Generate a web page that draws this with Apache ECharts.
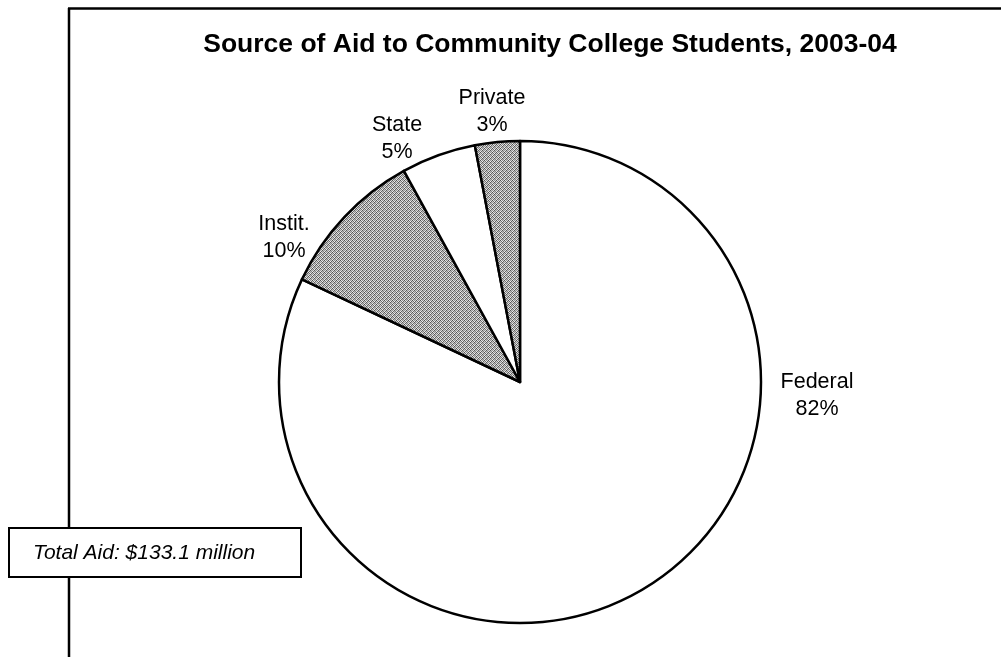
<!DOCTYPE html>
<html>
<head>
<meta charset="utf-8">
<script src="https://cdn.jsdelivr.net/npm/echarts@6/dist/echarts.min.js"></script>
<style>
  html, body { margin: 0; padding: 0; background: #fff; }
  #chart { width: 1001px; height: 659px; }
</style>
</head>
<body>
<div id="chart"></div>
<script>
// Aid sources, share of total (percent), clockwise from 12 o'clock
const categories = ['Federal', 'Instit.', 'State', 'Private'];
const shares = [82, 10, 5, 3];
const titleText = 'Source of Aid to Community College Students, 2003-04';
const noteText = 'Total Aid: $133.1 million';

// Dithered gray fill used for the shaded slices
function ditherPattern() {
  const c = document.createElement('canvas');
  c.width = 4; c.height = 4;
  const ctx = c.getContext('2d');
  const cells = [
    '#505050', '#e4e4e4', '#909090', '#d4d4d4',
    '#cccccc', '#707070', '#f2f2f2', '#606060',
    '#989898', '#dcdcdc', '#585858', '#c4c4c4',
    '#ececec', '#686868', '#bcbcbc', '#808080'
  ];
  cells.forEach((col, i) => {
    ctx.fillStyle = col;
    ctx.fillRect(i % 4, Math.floor(i / 4), 1, 1);
  });
  return c;
}
const shaded = { image: ditherPattern(), repeat: 'repeat' };
const fills = ['#ffffff', shaded, '#ffffff', shaded];

// Label block centres for each slice
const labelSpots = [[817, 396], [284, 238], [397, 139], [492, 112]];

const chart = echarts.init(document.getElementById('chart'), null, { renderer: 'canvas' });
chart.setOption({
  backgroundColor: '#ffffff',
  animation: false,
  title: {
    text: titleText,
    left: 545,
    top: 26,
    textAlign: 'center',
    textStyle: {
      fontFamily: 'Liberation Sans, Arial, sans-serif',
      fontWeight: 'bold',
      fontSize: 26.5,
      color: '#000'
    }
  },
  graphic: [
    // chart frame: top and left rules
    { type: 'line', shape: { x1: 68, y1: 8.5, x2: 1001, y2: 8.5 }, style: { stroke: '#000', lineWidth: 2.5 } },
    { type: 'line', shape: { x1: 69, y1: 8, x2: 69, y2: 657 }, style: { stroke: '#000', lineWidth: 2.5 } },
    // total aid note box
    {
      type: 'group', left: 8, top: 527,
      children: [
        { type: 'rect', shape: { x: 0, y: 0, width: 292, height: 49 }, style: { fill: '#fff', stroke: '#000', lineWidth: 2 } },
        { type: 'text', x: 24, y: 25, style: {
            text: noteText, fill: '#000', verticalAlign: 'middle',
            font: 'italic 21px "Liberation Sans", Arial, sans-serif' } }
      ]
    }
  ],
  series: [{
    type: 'pie',
    center: [520, 382],
    radius: 241,
    startAngle: 90,
    clockwise: true,
    avoidLabelOverlap: false,
    itemStyle: { borderColor: '#000', borderWidth: 2.5 },
    label: {
      show: true,
      position: 'outside',
      formatter: '{b}\n{d}%',
      fontFamily: 'Liberation Sans, Arial, sans-serif',
      fontSize: 21.5,
      lineHeight: 27,
      color: '#000',
      align: 'center'
    },
    labelLine: { show: false },
    labelLayout: function (p) {
      const s = labelSpots[p.dataIndex];
      return { x: s[0], y: s[1], align: 'center', verticalAlign: 'middle' };
    },
    emphasis: { disabled: true },
    data: categories.map((name, i) => ({
      name: name,
      value: shares[i],
      itemStyle: { color: fills[i] }
    }))
  }]
});
</script>
</body>
</html>
